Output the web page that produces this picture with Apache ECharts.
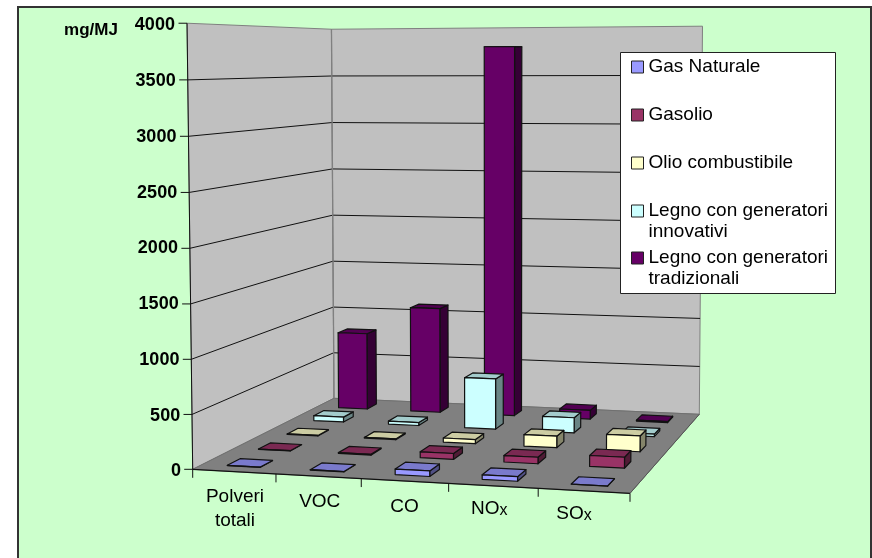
<!DOCTYPE html>
<html><head><meta charset="utf-8">
<style>html,body{margin:0;padding:0;background:#fff}#c{width:872px;height:558px}</style>
<script src="https://cdn.jsdelivr.net/npm/echarts@6/dist/echarts.min.js"></script>
</head><body><div id="c"></div>
<script>
const categories = ['Polveri totali','VOC','CO','NOx','SOx'];
const gasNaturale = [2,3,50,40,1];
const gasolio = [3,8,55,60,100];
const olioCombustibile = [5,8,40,110,150];
const legnoInnovativi = [50,30,505,150,25];
const legnoTradizionali = [800,1090,3800,90,10];
const yTicks = [0,500,1000,1500,2000,2500,3000,3500,4000];
const seriesNames = ['Gas Naturale','Gasolio','Olio combustibile','Legno con generatori innovativi','Legno con generatori tradizionali'];
const seriesValues = [gasNaturale,gasolio,olioCombustibile,legnoInnovativi,legnoTradizionali];
const seriesColors = [[153,153,255],[153,51,102],[255,255,204],[204,255,255],[102,0,102]];
const FONT = '"Liberation Sans", Arial, sans-serif';

// perspective box of the chart: floor corners + vanishing point of the verticals
const FL=[192.7,469.3],FR=[630,493.3],BR=[699.3,414.3],BL=[334,398.3],VP=[500,24600],VK=-0.01815;
const dx1=FR[0]-BR[0],dx2=BL[0]-BR[0],sx=FL[0]-FR[0]+BR[0]-BL[0];
const dy1=FR[1]-BR[1],dy2=BL[1]-BR[1],sy=FL[1]-FR[1]+BR[1]-BL[1];
const den=dx1*dy2-dx2*dy1;
const G=(sx*dy2-dx2*sy)/den,H=(dx1*sy-sx*dy1)/den;
function project(x,y,z){
  const w=G*x+H*z+1;
  const X=(FR[0]-FL[0]+G*FR[0])*x+(BL[0]-FL[0]+H*BL[0])*z+FL[0];
  const Y=(FR[1]-FL[1]+G*FR[1])*x+(BL[1]-FL[1]+H*BL[1])*z+FL[1];
  const k=VK*y;
  return [(X+k*VP[0])/(w+k),(Y+k*VP[1])/(w+k)];
}
const shade=(c,f)=>'rgb('+c.map(v=>Math.round(v*f)).join(',')+')';
const BAR_HALF=0.04;
const EDGE='#111';
function poly(pts,fill,stroke,lw){
  return {type:'polygon',shape:{points:pts},style:{fill:fill,stroke:stroke||EDGE,lineWidth:lw||1.2,lineJoin:'round'}};
}
function line(a,b,stroke,lw){
  return {type:'line',shape:{x1:a[0],y1:a[1],x2:b[0],y2:b[1]},style:{stroke:stroke,lineWidth:lw||1}};
}
function normY(api,params,v){
  const cs=params.coordSys;
  return (cs.y+cs.height-api.coord([0,v])[1])/cs.height;
}
function renderFrame(params,api){
  const top=normY(api,params,4000), ch=[];
  const p=(x,y,z)=>project(x,y,z);
  ch.push(poly([p(0,0,0),p(0,top,0),p(0,top,1),p(0,0,1)],'#c0c0c0','#808080',1));
  ch.push(poly([p(0,0,1),p(0,top,1),p(1,top,1),p(1,0,1)],'#c0c0c0','#808080',1));
  ch.push(poly([p(0,0,0),p(1,0,0),p(1,0,1),p(0,0,1)],'#808080','#707070',1));
  yTicks.forEach(v=>{
    const y=normY(api,params,v);
    if(v>0&&v<4000){
      ch.push(line(p(0,y,0),p(0,y,1),'#111',1));
      ch.push(line(p(0,y,1),p(1,y,1),'#111',1));
    }
    const a=p(0,y,0);
    ch.push(line([a[0]-8.5,a[1]],a,'#111',1));
  });
  ch.push(line(p(0,0,0),p(0,top,0),'#111',1));
  ch.push(line(p(0,0,0),p(1,0,0),'#111',1.2));
  ch.push(line(p(1,0,0),p(1,0,1),'#555',1));
  ch.push(line(p(0,0,1),p(0,top,1),'#808080',1.3));
  for(let i=0;i<=categories.length;i++){
    const a=p(i/categories.length,0,0);
    ch.push(line(a,[a[0],a[1]+8.5],'#111',1));
  }
  return {type:'group',children:ch};
}
function renderBar(j){
  return function(params,api){
    const cs=params.coordSys;
    const pt=api.coord([api.value(0),api.value(1)]);
    const u=(pt[0]-cs.x)/cs.width, y=(cs.y+cs.height-pt[1])/cs.height;
    const zc=(j+0.5)/seriesNames.length;
    const x0=u-BAR_HALF,x1=u+BAR_HALF,z0=zc-BAR_HALF,z1=zc+BAR_HALF;
    const c=seriesColors[j],p=project;
    return {type:'group',children:[
      poly([p(x1,0,z0),p(x1,y,z0),p(x1,y,z1),p(x1,0,z1)],shade(c,0.52)),
      poly([p(x0,y,z0),p(x1,y,z0),p(x1,y,z1),p(x0,y,z1)],shade(c,0.8)),
      poly([p(x0,0,z0),p(x1,0,z0),p(x1,y,z0),p(x0,y,z0)],shade(c,1))
    ]};
  };
}
const xPads=[0,14,24,27,37];
const xRich={};
xPads.forEach((t,i)=>{
  xRich['p'+i]={fontSize:19,fontFamily:FONT,color:'#000',lineHeight:i===0?24:21,padding:[t,0,0,0]};
  xRich['s'+i]={fontSize:16,fontFamily:FONT,color:'#000',lineHeight:14,padding:[t+5,0,0,0]};
});
const yRich={};
yTicks.forEach(v=>{
  yRich['v'+v]={fontSize:18,fontWeight:'bold',fontFamily:FONT,color:'#000',padding:[4,6*v/4000,0,0]};
});
const legendTops=[56.5,104.5,152.5,179.5,226.5];
const series=[{type:'custom',name:'frame',z:2,silent:true,data:[[0,0]],encode:{x:0,y:1},renderItem:renderFrame,clip:false}];
seriesNames.forEach((n,j)=>{
  series.push({type:'custom',name:n,z:10-j,silent:true,clip:false,encode:{x:0,y:1},
    itemStyle:{color:shade(seriesColors[j],1)},
    data:seriesValues[j].map((v,i)=>[i,v]),renderItem:renderBar(j)});
});
const wrap={'Legno con generatori innovativi':' \nLegno con generatori\ninnovativi','Legno con generatori tradizionali':' \nLegno con generatori\ntradizionali'};
const legends=seriesNames.map((n,j)=>({
  data:[n],orient:'vertical',left:631,top:legendTops[j],z:50,padding:0,itemWidth:12,itemHeight:12,icon:'rect',
  selectedMode:false,
  itemStyle:{borderColor:'#222',borderWidth:1},
  formatter:name=>wrap[name]||name,
  textStyle:{fontSize:19,fontFamily:FONT,color:'#000',lineHeight:21}
}));
const chart=echarts.init(document.getElementById('c'),null,{renderer:'canvas'});
chart.setOption({
  animation:false,
  backgroundColor:'#fff',
  grid:{left:192.6,top:23.3,bottom:88.7,right:255.6,containLabel:false},
  xAxis:{type:'category',data:categories,
    axisLine:{show:false},axisTick:{show:false},splitLine:{show:false},
    axisLabel:{interval:0,margin:15,rich:xRich,
      formatter:(val,i)=>{
        if(val==='Polveri totali')return '{p0|Polveri}\n{p0|totali}';
        if(val==='NOx')return '{p3|NO}{s3|x}';
        if(val==='SOx')return '{p4|SO}{s4|x}';
        return '{p'+i+'|'+val+'}';
      }}},
  yAxis:{type:'value',min:0,max:4000,interval:500,
    name:'mg/MJ',nameLocation:'end',nameGap:-7,
    nameTextStyle:{fontSize:17,fontWeight:'bold',fontFamily:FONT,color:'#000',align:'right',verticalAlign:'middle',padding:[0,74.7,0,0]},
    axisLine:{show:false},axisTick:{show:false},splitLine:{show:false},
    axisLabel:{margin:11.7,rich:yRich,formatter:v=>'{v'+v+'|'+v+'}'}},
  legend:legends,
  series:series,
  graphic:[
    {type:'rect',z:-1,silent:true,shape:{x:18,y:7,width:853,height:570},style:{fill:'#ccffcc',stroke:'#333',lineWidth:2}},
    {type:'rect',z:40,silent:true,shape:{x:620.5,y:52.5,width:215,height:241},style:{fill:'#fff',stroke:'#222',lineWidth:1}}
  ]
});
</script></body></html>
